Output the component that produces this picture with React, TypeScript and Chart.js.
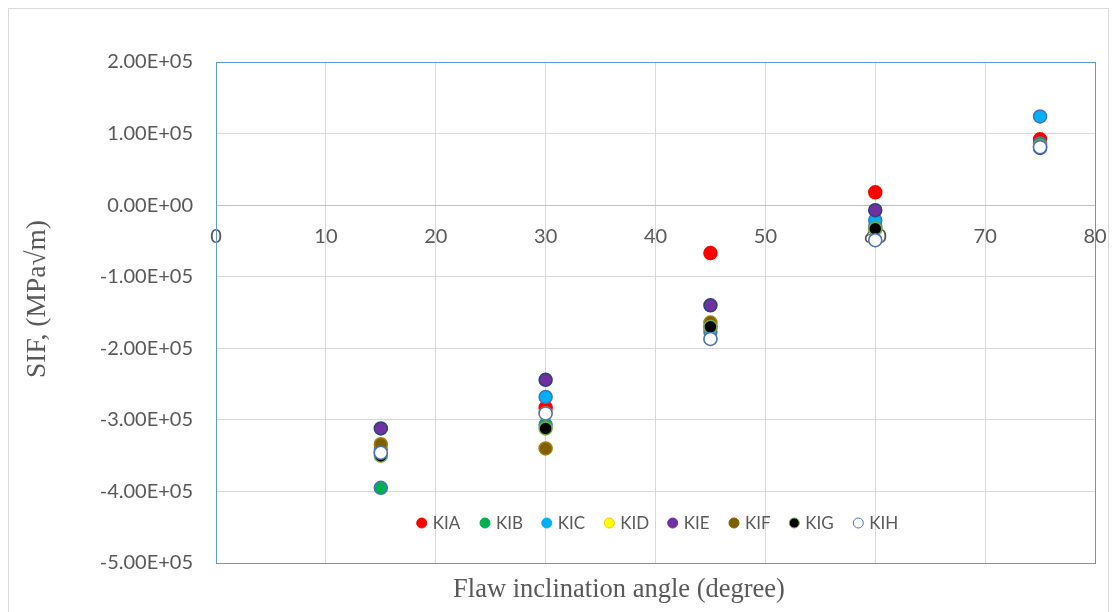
import React, { useEffect, useRef } from "react";
import { Chart, registerables } from "chart.js";

Chart.register(...registerables);

const angles = [15, 30, 45, 60, 75];
const seriesNames = ["KIA", "KIB", "KIC", "KID", "KIE", "KIF", "KIG", "KIH"];
const KIA = [-345000, -283000, -67000, 18000, 92000];
const KIB = [-395000, -307000, -170000, -30000, 86000];
const KIC = [-342000, -268000, -177000, -21000, 124000];
const KID = [-346000, -291000, -187000, -49000, 81000];
const KIE = [-312000, -244000, -140000, -7000, 80000];
const KIF = [-334000, -340000, -164000, -33000, 83000];
const KIG = [-350000, -312000, -170000, -33000, 82000];
const KIH = [-346000, -291000, -187000, -49000, 81000];
const seriesValues = [KIA, KIB, KIC, KID, KIE, KIF, KIG, KIH];
const fillColors = ["#FF0000", "#00B050", "#00B0F0", "#FFFF00", "#7030A0", "#7F6000", "#000000", "#FFFFFF"];
const borderColors = ["#FF0000", "#4472C4", "#4472C4", "#FFC000", "#264478", "#9E7F10", "#70AD47", "#4472C4"];
const xTicks = [0, 10, 20, 30, 40, 50, 60, 70, 80];
const yTicks = [-500000, -400000, -300000, -200000, -100000, 0, 100000, 200000];
const xTitle = "Flaw inclination angle (degree)";
const yTitle = "SIF, (MPa√m)";

const TICK_FONT = "Lato";
const TEXT_COLOR = "#595959";
const LEGEND_X = [412.7, 476, 537.7, 600.3, 663.7, 725, 785.3, 849.3];

function fmtSci(v: number): string {
  const r = Math.round(v);
  if (r === 0) return "0.00E+00";
  const sign = r < 0 ? "-" : "";
  const a = Math.abs(r);
  const e = Math.floor(Math.log10(a) + 1e-9);
  const m = a / Math.pow(10, e);
  return `${sign}${m.toFixed(2)}E${e >= 0 ? "+" : "-"}${String(Math.abs(e)).padStart(2, "0")}`;
}

const frameAndLegend = {
  id: "frameAndLegend",
  beforeDatasetsDraw(chart: any) {
    const { ctx, chartArea } = chart;
    ctx.save();
    ctx.strokeStyle = "#5B9BD5";
    ctx.lineWidth = 1;
    ctx.strokeRect(
      Math.round(chartArea.left) + 0.5,
      Math.round(chartArea.top) + 0.5,
      Math.round(chartArea.right - chartArea.left),
      Math.round(chartArea.bottom - chartArea.top)
    );
    ctx.restore();
  },
  afterDraw(chart: any) {
    const { ctx } = chart;
    ctx.save();
    // axis titles
    ctx.fillStyle = TEXT_COLOR;
    ctx.textAlign = "center";
    ctx.textBaseline = "middle";
    ctx.font = "26.5px 'Liberation Serif'";
    ctx.fillText(xTitle, 610, 581);
    ctx.save();
    ctx.translate(29, 290);
    ctx.rotate(-Math.PI / 2);
    ctx.font = "27.5px 'Liberation Serif'";
    ctx.fillText(yTitle, 0, 0);
    ctx.restore();
    // legend
    ctx.font = `17px ${TICK_FONT}`;
    ctx.textBaseline = "middle";
    ctx.textAlign = "left";
    const y = 514;
    seriesNames.forEach((name, i) => {
      const x = LEGEND_X[i];
      ctx.beginPath();
      ctx.arc(x, y, 5, 0, Math.PI * 2);
      ctx.fillStyle = fillColors[i];
      ctx.fill();
      ctx.lineWidth = 1;
      ctx.strokeStyle = i === 7 ? "#4472C4" : i === 6 ? "#70AD47" : i === 3 ? "#FFC000" : fillColors[i];
      ctx.stroke();
      ctx.fillStyle = TEXT_COLOR;
      ctx.fillText(name, x + 11, y + 1);
    });
    ctx.restore();
  },
};

export default function App() {
  const canvasRef = useRef<HTMLCanvasElement | null>(null);

  useEffect(() => {
    if (!canvasRef.current) return;
    const datasets = seriesNames.map((name, i) => ({
      label: name,
      data: angles.map((a, j) => ({ x: a, y: seriesValues[i][j] })),
      backgroundColor: fillColors[i],
      borderColor: borderColors[i],
      pointRadius: 6.5,
      pointBorderWidth: 1.5,
      pointHoverRadius: 6.5,
      showLine: false,
      order: seriesNames.length - i,
    }));
    const zeroPad = (s: any) => {
      s.paddingLeft = 0;
      s.paddingRight = 0;
    };
    const chart = new Chart(canvasRef.current, {
      type: "scatter",
      data: { datasets },
      plugins: [frameAndLegend],
      options: {
        animation: false,
        responsive: false,
        layout: { padding: { left: 0, top: 53, right: 13, bottom: 0 } },
        plugins: {
          legend: { display: false },
          tooltip: { enabled: false },
        },
        scales: {
          x: {
            type: "linear",
            position: "bottom",
            min: 0,
            max: 80,
            afterBuildTicks: (s: any) => {
              s.ticks = xTicks.map((v) => ({ value: v }));
            },
            ticks: { display: false },
            grid: { color: "#D9D9D9", drawTicks: false },
            border: { display: false },
            afterFit: (s: any) => {
              s.height = 49;
              zeroPad(s);
            },
          },
          x2: {
            type: "linear",
            axis: "x",
            position: { y: 0 },
            min: 0,
            max: 80,
            afterBuildTicks: (s: any) => {
              s.ticks = xTicks.map((v) => ({ value: v }));
            },
            ticks: {
              color: TEXT_COLOR,
              font: { family: TICK_FONT, size: 20 },
              padding: 19,
              maxRotation: 0,
              autoSkip: false,
            },
            grid: { display: false, drawTicks: false },
            border: { display: false },
            afterFit: zeroPad,
          },
          y: {
            type: "linear",
            position: "left",
            min: -500000,
            max: 200000,
            afterBuildTicks: (s: any) => {
              s.ticks = yTicks.map((v) => ({ value: v }));
            },
            ticks: {
              color: TEXT_COLOR,
              font: { family: TICK_FONT, size: 20 },
              padding: 23,
              callback: (v: any) => fmtSci(Number(v)),
            },
            grid: {
              color: (c: any) => (c.tick && c.tick.value === 0 ? "#BFBFBF" : "#D9D9D9"),
              drawTicks: false,
            },
            border: { display: false },
            afterFit: (s: any) => {
              s.width = 207;
            },
          },
        },
      },
    } as any);
    return () => chart.destroy();
  }, []);

  return (
    <div
      style={{
        width: 1099,
        height: 603,
        borderTop: "1px solid #D9D9D9",
        borderLeft: "1px solid #D9D9D9",
        borderRight: "1px solid #D9D9D9",
        background: "#FFFFFF",
      }}
    >
      <canvas ref={canvasRef} width={1099} height={603} style={{ display: "block" }} />
    </div>
  );
}
